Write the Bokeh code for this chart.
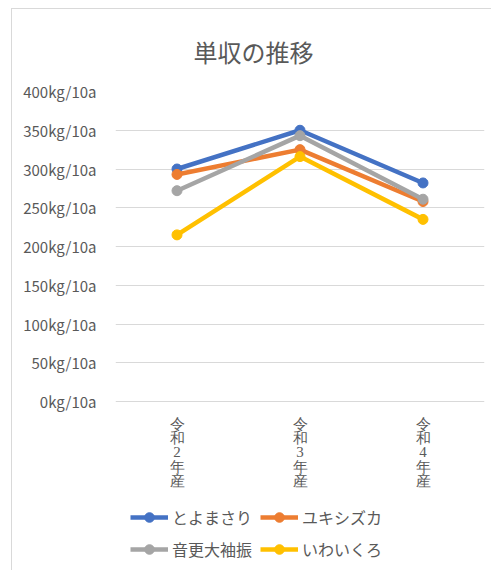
from bokeh.plotting import figure
from bokeh.models import FactorRange, Range1d, FixedTicker, PrintfTickFormatter, Legend, LegendItem
from bokeh.embed import file_html
from bokeh.resources import INLINE

# ---- data ----
categories = ["令和2年産", "令和3年産", "令和4年産"]
series_names = ["とよまさり", "ユキシズカ", "音更大袖振", "いわいくろ"]
toyomasari = [300, 350, 282]
yukishizuka = [293, 325, 258]
otofuke_oosodefuri = [272, 343, 261]
iwaikuro = [215, 316, 235]
y_ticks = [0, 50, 100, 150, 200, 250, 300, 350, 400]
title_text = "単収の推移"

colors = ["#4472C4", "#ED7D31", "#A5A5A5", "#FFC000"]
series_values = [toyomasari, yukishizuka, otofuke_oosodefuri, iwaikuro]

FONT = "Noto Sans CJK JP"
TXT = "#595959"
GRID = "#d9d9d9"

# layout: value area 310 px tall for 0..400, extra room below it for
# category labels and legend (kept inside the frame)
PLOT_PX = 310.0
BELOW_PX = 170.0
ymax = y_ticks[-1]
ymin = -BELOW_PX * ymax / PLOT_PX

# stacked (vertical) category labels
stacked = ["\n".join(c) for c in categories]

p = figure(width=480, height=562,
           x_range=FactorRange(*categories), y_range=Range1d(ymin, ymax),
           output_backend="svg", toolbar_location=None,
           title=title_text,
           min_border_left=103, min_border_right=8,
           min_border_top=82, min_border_bottom=0)
p.margin = (8, 0, 0, 11)
p.styles = {"border-left": "1px solid #d9d9d9", "border-top": "1px solid #d9d9d9"}

p.title.align = "left"
p.title.text_font = FONT
p.title.text_font_size = "24px"
p.title.text_font_style = "normal"
p.title.text_color = TXT
p.title.offset = 78
p.title.standoff = 45

p.outline_line_color = None
p.background_fill_color = "white"
p.border_fill_color = "white"

p.yaxis.ticker = FixedTicker(ticks=y_ticks)
p.yaxis.formatter = PrintfTickFormatter(format="%dkg/10a")
p.yaxis.axis_line_color = None
p.yaxis.major_tick_line_color = None
p.yaxis.minor_tick_line_color = None
p.yaxis.major_label_standoff = 13
p.yaxis.major_label_text_font = FONT
p.yaxis.major_label_text_font_size = "15px"
p.yaxis.major_label_text_color = TXT

p.xaxis.visible = False
p.xgrid.grid_line_color = None
p.ygrid.grid_line_color = GRID
p.ygrid.grid_line_width = 1

# category labels, stacked vertically under each category
p.text(x=categories, y=[0] * len(categories), text=stacked,
       text_align="center", text_baseline="top", y_offset=14,
       text_font=FONT, text_font_size="15px", text_line_height=0.9,
       text_color=TXT)

items = []
for name, vals, col in zip(series_names, series_values, colors):
    lr = p.line(categories, vals, line_color=col, line_width=4.5)
    cr = p.scatter(categories, vals, size=10, fill_color=col, line_color=col)
    items.append(LegendItem(label=name, renderers=[lr, cr]))

# column-major fill -> rows read: とよまさり ユキシズカ / 音更大袖振 いわいくろ
legend_items = [items[0], items[2], items[1], items[3]]
legend = Legend(items=legend_items, ncols=2, location=(15, 10),
                padding=0, margin=0, spacing=8,
                glyph_width=38, glyph_height=24, label_standoff=4,
                label_text_font=FONT, label_text_font_size="16px",
                label_text_color=TXT,
                border_line_alpha=0, background_fill_alpha=0)
p.add_layout(legend, "center")

open("out.html", "w").write(file_html(p, INLINE))
